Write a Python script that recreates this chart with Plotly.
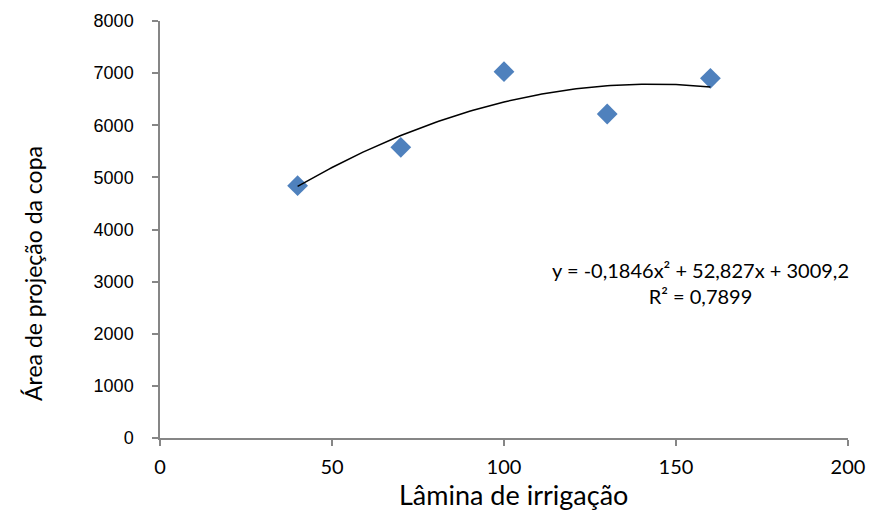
import numpy as np
import plotly.graph_objects as go

# Data
lamina = [40, 70, 100, 130, 160]
area = [4840, 5577, 7028, 6216, 6900]
trend_coef = [-0.1846, 52.827, 3009.2]  # quadratic trendline shown on chart
r2 = 0.7899
x_ticks = [0, 50, 100, 150, 200]
y_ticks = [0, 1000, 2000, 3000, 4000, 5000, 6000, 7000, 8000]

xs = np.linspace(min(lamina), max(lamina), 121)
ys = np.polyval(trend_coef, xs)


def br(v, nd):
    return f"{v:.{nd}f}".replace(".", ",")


eq_text = (f"y = {br(trend_coef[0], 4)}x² + {br(trend_coef[1], 3)}x + {br(trend_coef[2], 1)}"
           f"<br>R² = {br(r2, 4)}")

fig = go.Figure()
fig.add_trace(go.Scatter(x=lamina, y=area, mode="markers",
                         marker=dict(symbol="diamond", size=16, color="#4F81BD"),
                         hoverinfo="skip"))
fig.add_trace(go.Scatter(x=xs, y=ys, mode="lines",
                         line=dict(color="black", width=1.5), hoverinfo="skip"))

axis_color = "#868686"
fig.update_layout(
    width=889, height=513,
    margin=dict(l=152, r=49, t=13, b=83),
    plot_bgcolor="white", paper_bgcolor="white",
    showlegend=False,
    xaxis=dict(range=[0, 200], tickvals=x_ticks, showline=True, linecolor=axis_color,
               linewidth=1.5, ticks="outside", ticklen=6, tickcolor=axis_color, tickwidth=1.5,
               showgrid=False, zeroline=False, ticklabelstandoff=4,
               tickfont=dict(family="Lato", size=20, color="black"),
               automargin=False),
    yaxis=dict(range=[0, 8000], tickvals=y_ticks, showline=True, linecolor=axis_color,
               linewidth=1.5, ticks="outside", ticklen=6, tickcolor=axis_color, tickwidth=1.5,
               showgrid=False, zeroline=False, ticklabelstandoff=15,
               tickfont=dict(family="Liberation Sans", size=18, color="black"),
               automargin=False),
    annotations=[
        dict(x=157, y=2974, xref="x", yref="y", text=eq_text, showarrow=False,
             xanchor="center", yanchor="middle", align="center",
             font=dict(family="Lato", size=20, color="black")),
        dict(x=(513 - 160) / 688, y=0, xref="paper", yref="paper", yshift=-56,
             text="Lâmina de irrigação", showarrow=False, xanchor="center", yanchor="middle",
             font=dict(family="Lato", size=27, color="black")),
        dict(x=0, y=(438 - 274) / 417, xref="paper", yref="paper", xshift=-127,
             text="Área de projeção da copa", showarrow=False, textangle=-90,
             xanchor="center", yanchor="middle",
             font=dict(family="Lato", size=23, color="black")),
    ],
)

fig.write_html("out.html")
